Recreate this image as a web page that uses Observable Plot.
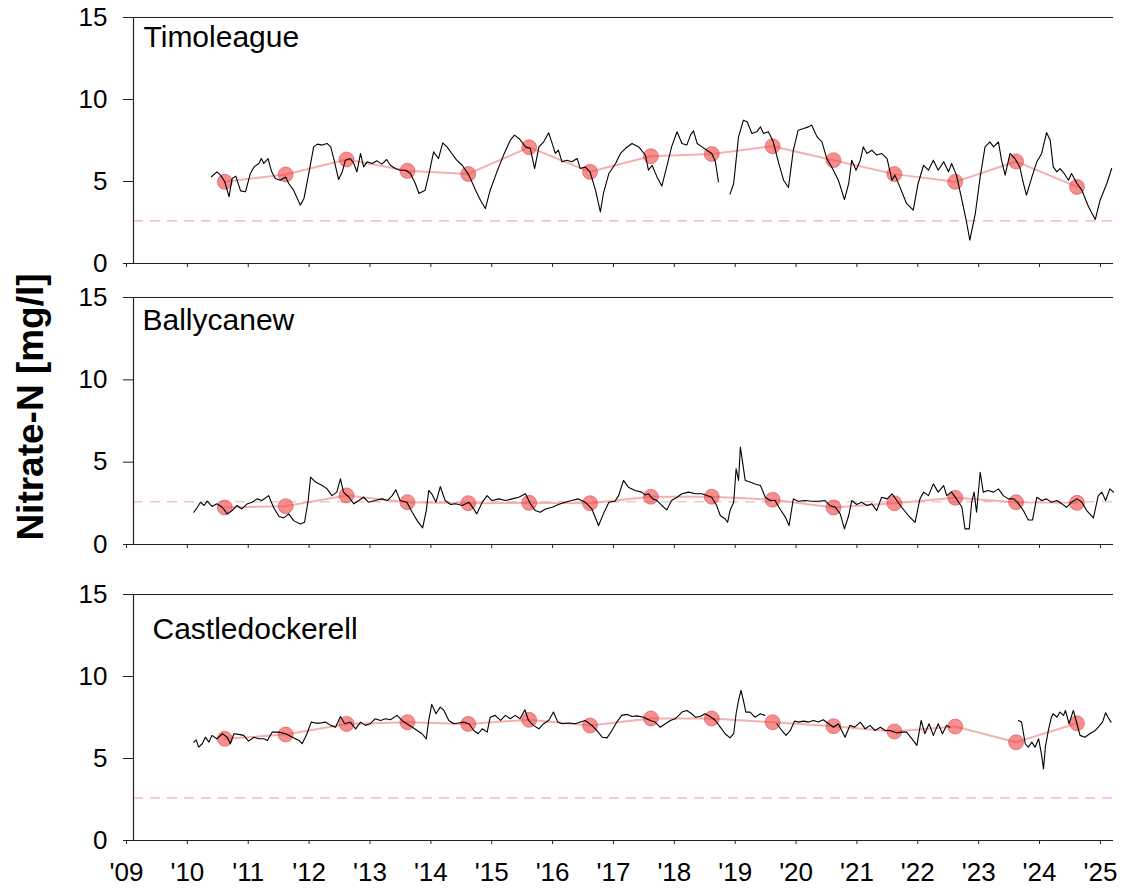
<!DOCTYPE html>
<html><head><meta charset="utf-8">
<script src="https://cdn.jsdelivr.net/npm/d3@7"></script>
<script src="https://cdn.jsdelivr.net/npm/@observablehq/plot@0.6"></script>
<style>
body{margin:0;background:#fff;}
#wrap{position:relative;width:1127px;height:888px;font-family:"Liberation Sans",Arial,sans-serif;background:#fff;}
.panel{position:absolute;left:0;}
#ylabel{position:absolute;left:31px;top:407px;transform:translate(-50%,-50%) rotate(-90deg);font-weight:bold;font-size:37px;white-space:nowrap;z-index:5;color:#000;}
</style></head><body><div id="wrap"></div>
<script>
// ---------- data ----------
const yearTicks = [2009,2010,2011,2012,2013,2014,2015,2016,2017,2018,2019,2020,2021,2022,2023,2024,2025];
const yearLabels = ["'09","'10","'11","'12","'13","'14","'15","'16","'17","'18","'19","'20","'21","'22","'23","'24","'25"];
const yTicks = [0,5,10,15];
const threshold = 2.6;
const siteNames = ["Timoleague","Ballycanew","Castledockerell"];

const meanYears = [2010.5,2011.5,2012.5,2013.5,2014.5,2015.5,2016.5,2017.5,2018.5,2019.5,2020.5,2021.5,2022.5,2023.5,2024.5];
const timMeans  = [4.98,5.43,6.34,5.65,5.46,7.09,5.59,6.54,6.68,7.15,6.30,5.45,4.98,6.22,4.67];
const balMeans  = [2.25,2.33,2.98,2.57,2.51,2.53,2.51,2.90,2.90,2.72,2.25,2.51,2.84,2.57,2.53];
const casMeans  = [6.20,6.46,7.11,7.21,7.11,7.36,7.01,7.44,7.44,7.21,6.97,6.65,6.95,5.99,7.15];

const timYears = [2010.28,2010.37,2010.43,2010.50,2010.57,2010.62,2010.68,2010.76,2010.84,2010.92,2010.98,2011.06,2011.10,2011.14,2011.21,2011.27,2011.33,2011.41,2011.50,2011.55,2011.63,2011.74,2011.80,2011.88,2011.96,2012.02,2012.10,2012.18,2012.24,2012.29,2012.37,2012.43,2012.48,2012.56,2012.62,2012.67,2012.73,2012.78,2012.84,2012.92,2013.00,2013.08,2013.16,2013.22,2013.30,2013.38,2013.47,2013.55,2013.63,2013.69,2013.79,2013.85,2013.93,2014.01,2014.08,2014.15,2014.23,2014.31,2014.40,2014.51,2014.62,2014.70,2014.78,2014.86,2014.97,2015.08,2015.19,2015.26,2015.35,2015.44,2015.52,2015.59,2015.66,2015.74,2015.82,2015.87,2015.93,2015.98,2016.04,2016.12,2016.20,2016.29,2016.34,2016.42,2016.50,2016.59,2016.67,2016.72,2016.81,2016.92,2017.00,2017.08,2017.19,2017.30,2017.41,2017.46,2017.52,2017.60,2017.68,2017.76,2017.84,2017.93,2018.01,2018.09,2018.15,2018.20,2018.26,2018.34,2018.42,2018.50,2018.56,2018.61,2018.70,2018.80,2018.86,2018.94,2019.02,2019.08,2019.16,2019.24,2019.30,2019.35,2019.43,2019.51,2019.60,2019.68,2019.76,2019.84,2019.92,2020.01,2020.09,2020.14,2020.23,2020.31,2020.39,2020.47,2020.58,2020.68,2020.75,2020.80,2020.87,2020.94,2020.99,2021.05,2021.13,2021.21,2021.29,2021.38,2021.46,2021.51,2021.59,2021.70,2021.81,2021.89,2021.98,2022.06,2022.14,2022.22,2022.31,2022.39,2022.44,2022.52,2022.61,2022.69,2022.74,2022.83,2022.91,2022.99,2023.07,2023.13,2023.21,2023.26,2023.32,2023.40,2023.48,2023.56,2023.62,2023.67,2023.76,2023.84,2023.92,2024.00,2024.06,2024.11,2024.17,2024.22,2024.29,2024.36,2024.41,2024.50,2024.58,2024.69,2024.80,2024.88,2024.99,2025.07];
const timValues = [5.29,5.59,5.39,4.98,4.07,5.18,5.33,4.43,4.37,5.49,5.89,6.10,6.40,6.10,6.40,5.59,5.18,5.08,5.28,4.88,4.47,3.56,3.96,5.49,7.11,7.28,7.22,7.32,7.11,6.40,5.12,5.59,6.30,6.40,6.10,5.59,6.71,5.89,6.20,6.10,6.26,6.06,6.34,5.99,5.79,5.69,5.69,5.49,4.88,4.27,4.47,5.39,6.81,6.40,7.36,7.11,6.71,6.30,5.99,5.39,4.47,3.86,3.35,4.47,5.59,6.61,7.52,7.83,7.56,7.11,7.01,5.79,7.11,7.42,7.97,7.42,6.71,6.91,6.20,6.30,6.20,6.40,5.79,5.89,5.59,4.47,3.15,4.27,5.49,6.10,6.71,7.01,7.32,7.11,6.60,5.69,5.99,5.28,4.72,5.89,7.11,8.03,7.32,7.22,7.83,8.09,7.32,7.11,6.91,6.71,6.20,4.98,null,4.23,4.88,7.72,8.74,8.64,7.93,8.03,8.33,7.93,8.03,7.42,6.10,5.08,4.63,6.91,8.13,8.23,8.33,8.44,7.72,7.42,6.40,5.89,5.08,3.90,4.88,6.30,5.69,6.30,7.11,6.71,6.91,6.61,6.71,6.40,5.08,5.39,4.67,3.66,3.25,4.88,5.99,5.69,6.30,5.69,6.20,5.59,6.10,5.39,3.86,2.44,1.42,3.05,5.28,7.11,7.42,7.11,7.42,6.30,5.39,6.71,6.40,5.89,4.88,4.17,5.28,6.20,6.71,7.99,7.52,5.89,5.59,5.79,5.49,5.08,5.49,4.88,4.47,3.46,2.68,3.86,4.88,5.79];

const balYears = [2009.99,2010.05,2010.10,2010.16,2010.21,2010.29,2010.37,2010.46,2010.54,2010.62,2010.70,2010.78,2010.87,2010.95,2011.03,2011.11,2011.22,2011.30,2011.39,2011.47,2011.55,2011.63,2011.74,2011.81,2011.87,2011.91,2011.99,2012.10,2012.18,2012.26,2012.34,2012.40,2012.45,2012.54,2012.62,2012.70,2012.78,2012.86,2012.97,2013.08,2013.17,2013.25,2013.31,2013.38,2013.49,2013.58,2013.66,2013.75,2013.81,2013.85,2013.90,2013.97,2014.04,2014.12,2014.21,2014.29,2014.40,2014.51,2014.59,2014.64,2014.73,2014.81,2014.89,2015.00,2015.11,2015.22,2015.33,2015.44,2015.52,2015.60,2015.68,2015.77,2015.88,2015.98,2016.09,2016.20,2016.31,2016.42,2016.53,2016.64,2016.72,2016.81,2016.91,2016.97,2017.05,2017.13,2017.24,2017.35,2017.41,2017.46,2017.53,2017.60,2017.68,2017.76,2017.84,2017.93,2018.01,2018.12,2018.23,2018.34,2018.42,2018.50,2018.58,2018.64,2018.72,2018.76,2018.80,2018.86,2018.90,2018.94,2018.97,2019.01,2019.05,2019.13,2019.21,2019.30,2019.38,2019.46,2019.54,2019.62,2019.71,2019.77,2019.84,2019.92,2020.03,2020.14,2020.25,2020.36,2020.44,2020.53,2020.61,2020.68,2020.75,2020.80,2020.88,2020.96,2021.05,2021.13,2021.21,2021.29,2021.38,2021.46,2021.54,2021.62,2021.73,2021.84,2021.92,2021.98,2022.06,2022.14,2022.22,2022.31,2022.36,2022.44,2022.52,2022.61,2022.66,2022.73,2022.77,2022.81,2022.85,2022.91,2022.96,2023.04,2023.13,2023.21,2023.29,2023.37,2023.46,2023.52,2023.62,2023.70,2023.77,2023.84,2023.92,2024.00,2024.08,2024.17,2024.25,2024.33,2024.41,2024.50,2024.58,2024.66,2024.77,2024.85,2024.91,2024.97,2025.04,2025.10];
const balValues = [1.96,2.26,2.57,2.37,2.63,2.31,2.47,2.26,1.86,2.06,2.37,2.16,2.47,2.57,2.77,2.67,2.97,2.26,1.70,1.62,1.86,1.45,1.25,1.35,2.67,4.09,3.79,3.58,3.38,2.97,3.18,3.99,3.18,2.87,2.47,2.67,2.87,2.57,2.67,2.77,2.67,2.97,3.32,2.67,2.57,1.96,1.45,1.01,2.06,3.28,3.08,2.57,3.52,2.67,2.43,2.47,2.37,2.57,2.16,1.86,2.57,2.97,2.67,2.77,2.67,2.77,2.87,3.08,2.47,2.06,1.96,2.16,2.26,2.43,2.57,2.67,2.77,2.57,2.16,1.15,1.86,2.57,2.63,2.97,3.89,3.48,3.28,3.18,3.00,3.08,2.77,2.67,2.37,2.10,2.67,2.87,3.08,3.18,3.08,3.08,2.97,2.87,2.37,1.76,1.55,1.35,2.06,2.57,4.60,3.89,5.92,4.90,3.89,3.79,3.68,3.58,2.87,2.67,2.67,2.16,1.66,1.15,2.77,2.63,2.67,2.63,2.63,2.67,2.37,2.26,1.86,0.95,1.76,2.67,2.43,2.57,2.37,2.47,2.06,2.87,2.77,3.08,2.67,2.26,1.76,1.35,2.77,3.18,2.97,3.68,3.18,3.58,2.97,3.18,2.77,2.26,0.95,0.95,2.57,3.18,1.96,4.39,3.18,3.28,3.18,3.38,2.97,2.77,2.77,2.57,2.06,1.49,1.49,2.87,2.67,2.77,2.57,2.67,2.47,2.26,2.57,2.77,2.57,2.06,1.62,2.97,3.18,2.67,3.38,3.18];

const casYears = [2009.99,2010.03,2010.07,2010.13,2010.18,2010.24,2010.29,2010.37,2010.46,2010.54,2010.59,2010.65,2010.73,2010.81,2010.89,2010.98,2011.06,2011.14,2011.20,2011.28,2011.39,2011.50,2011.61,2011.72,2011.77,2011.85,2011.92,2011.99,2012.07,2012.15,2012.24,2012.32,2012.40,2012.47,2012.56,2012.65,2012.73,2012.81,2012.89,2012.97,2013.06,2013.14,2013.22,2013.33,2013.41,2013.49,2013.58,2013.66,2013.74,2013.81,2013.85,2013.90,2013.97,2014.04,2014.10,2014.18,2014.26,2014.34,2014.42,2014.51,2014.59,2014.66,2014.73,2014.81,2014.86,2014.94,2015.03,2015.11,2015.19,2015.27,2015.35,2015.43,2015.49,2015.57,2015.66,2015.74,2015.82,2015.90,2015.97,2016.04,2016.15,2016.26,2016.34,2016.42,2016.53,2016.61,2016.70,2016.78,2016.86,2016.94,2017.02,2017.11,2017.19,2017.27,2017.38,2017.49,2017.57,2017.65,2017.74,2017.82,2017.90,2018.01,2018.09,2018.17,2018.23,2018.31,2018.39,2018.47,2018.56,2018.64,2018.72,2018.80,2018.86,2018.90,2018.94,2018.98,2019.02,2019.06,2019.13,2019.21,2019.30,2019.37,2019.47,2019.57,2019.65,2019.72,2019.79,2019.86,2019.92,2020.01,2020.09,2020.17,2020.25,2020.33,2020.42,2020.50,2020.58,2020.69,2020.77,2020.85,2020.94,2021.02,2021.10,2021.18,2021.27,2021.35,2021.43,2021.54,2021.62,2021.70,2021.79,2021.87,2021.94,2022.00,2022.07,2022.14,2022.22,2022.29,2022.36,2022.41,2023.00,2023.54,2023.59,2023.65,2023.70,2023.76,2023.81,2023.87,2023.92,2023.95,2023.98,2024.03,2024.08,2024.11,2024.17,2024.22,2024.28,2024.31,2024.37,2024.44,2024.50,2024.55,2024.63,2024.71,2024.80,2024.85,2024.92,2024.97,2025.01,2025.06];
const casValues = [6.00,6.14,5.69,5.90,6.30,6.00,6.41,6.20,6.51,6.30,5.90,6.51,6.47,6.41,6.06,6.30,6.20,6.20,6.10,6.61,6.61,6.51,6.30,6.10,5.90,6.51,7.22,7.16,7.16,7.22,7.02,6.91,7.56,7.12,7.22,6.81,7.22,7.02,7.12,7.42,7.32,7.42,7.36,7.63,7.32,7.12,6.91,6.71,6.51,6.20,7.32,8.30,7.73,8.13,7.93,7.32,7.12,7.16,7.22,7.12,6.71,6.51,6.81,6.61,7.52,7.63,7.32,7.63,7.42,7.63,7.42,7.97,7.32,7.02,6.81,7.12,7.32,7.83,7.22,7.12,7.16,7.12,7.22,7.32,7.02,6.71,6.30,6.26,6.71,7.22,7.63,7.69,7.56,7.60,7.52,7.32,7.22,6.91,7.12,7.32,7.42,7.83,7.93,7.73,7.52,7.56,7.73,7.56,7.32,6.91,6.51,6.26,6.51,7.73,8.54,9.15,8.54,7.83,7.83,7.52,7.73,7.63,null,7.12,6.71,6.41,6.71,7.28,7.22,7.28,7.22,7.32,7.22,7.36,7.12,6.91,7.12,6.30,7.02,6.91,7.22,6.81,7.02,6.71,6.91,6.71,6.71,6.55,6.61,6.61,6.20,5.80,7.32,6.51,7.12,6.41,7.12,6.51,7.02,6.91,null,7.32,7.22,5.90,5.69,6.00,5.69,6.20,5.19,4.37,5.69,6.71,7.52,7.73,7.52,7.83,7.63,7.93,7.12,7.93,7.12,6.41,6.30,6.51,6.71,6.91,7.22,7.79,7.52,7.22];

// ---------- drawing ----------
const FONT = '"Liberation Sans", Arial, sans-serif';
const panels = [
  {name: siteNames[0], years: timYears, values: timValues, means: timMeans, top: 0,   height: 280, mt: 17, mb: 17, tdx: 10, tdy: 8,  labels: false},
  {name: siteNames[1], years: balYears, values: balValues, means: balMeans, top: 280, height: 300, mt: 17, mb: 36, tdx: 9,  tdy: 11, labels: false},
  {name: siteNames[2], years: casYears, values: casValues, means: casMeans, top: 580, height: 308, mt: 14, mb: 48, tdx: 19, tdy: 23, labels: true}
];
const wrap = document.getElementById("wrap");
for (const p of panels) {
  const series = p.years.map((t, i) => ({t, v: p.values[i]}));
  const means = meanYears.map((t, i) => ({t, v: p.means[i]}));
  const chart = Plot.plot({
    width: 1127, height: p.height,
    marginLeft: 133, marginRight: 14, marginTop: p.mt, marginBottom: p.mb,
    style: {fontFamily: FONT, fontSize: "26px", color: "#000", background: "transparent"},
    x: {domain: [2009, 2025.1]},
    y: {domain: [0, 15]},
    marks: [
      Plot.ruleY([threshold], {stroke: "#f1c6c6", strokeWidth: 1.6, strokeDasharray: "10,7"}),
      Plot.line(means, {x: "t", y: "v", stroke: "#f1a3a3", strokeWidth: 2, strokeOpacity: 0.85}),
      Plot.dot(means, {x: "t", y: "v", r: 7.5, fill: "#f04848", fillOpacity: 0.62, stroke: "#d83a3a", strokeOpacity: 0.5, strokeWidth: 1}),
      Plot.line(series, {x: "t", y: "v", stroke: "#000", strokeWidth: 1.1}),
      Plot.ruleY([0, 15], {stroke: "#222", strokeWidth: 1.2}),
      Plot.ruleX([2009], {stroke: "#222", strokeWidth: 1.2}),
      Plot.axisY({ticks: yTicks, tickSize: 10, tickPadding: 16, label: null, fontSize: 26, stroke: "#222"}),
      Plot.axisX({ticks: yearTicks, tickSize: 4, tickPadding: 18, label: null, fontSize: 26, dx: -7, stroke: "#222",
        tickFormat: p.labels ? (d => yearLabels[yearTicks.indexOf(d)]) : (() => "")}),
      Plot.text([p.name], {frameAnchor: "top-left", textAnchor: "start", lineAnchor: "top", dx: p.tdx, dy: p.tdy, fontSize: 30, fill: "#000"})
    ]
  });
  chart.classList.add("panel");
  chart.style.top = p.top + "px";
  wrap.appendChild(chart);
}
const yl = document.createElement("div");
yl.id = "ylabel";
yl.textContent = "Nitrate-N [mg/l]";
wrap.appendChild(yl);
</script></body></html>
